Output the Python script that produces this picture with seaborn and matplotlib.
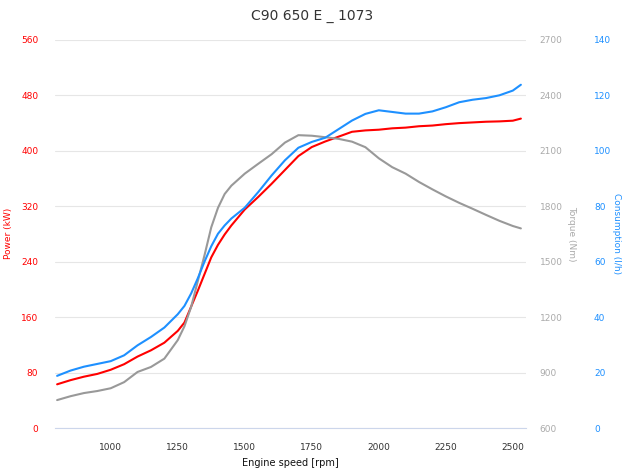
import matplotlib
matplotlib.use("Agg")
import matplotlib.pyplot as plt
import seaborn as sns
import pandas as pd

# engine curve values
rpm = [800, 850, 900, 950, 1000, 1050, 1100, 1150, 1200, 1250, 1275, 1300, 1325, 1350,
       1375, 1400, 1425, 1450, 1500, 1550, 1600, 1650, 1700, 1750, 1800, 1850, 1900,
       1950, 2000, 2050, 2100, 2150, 2200, 2250, 2300, 2350, 2400, 2450, 2500, 2530]
power = [63, 69, 74, 78, 84, 92, 103, 112, 123, 140, 152, 175, 198, 222,
         246, 264, 279, 292, 315, 333, 352, 372, 392, 405, 413, 420, 427,
         429, 430, 432, 433, 435, 436, 438, 439.5, 440.5, 441.5, 442, 443, 446]
torque = [751, 772, 789, 800, 815, 848, 903, 930, 975, 1075, 1150, 1255, 1395, 1535,
          1685, 1790, 1865, 1910, 1975, 2028, 2080, 2143, 2183, 2180, 2172, 2163, 2148,
          2118, 2058, 2010, 1975, 1930, 1890, 1852, 1817, 1785, 1752, 1720, 1692, 1679]
consumption = [18.8, 20.7, 22.1, 23.1, 24.1, 26.2, 29.8, 32.8, 36.2, 41, 44, 48.5, 54, 60,
               65.5, 70, 73, 75.5, 79.4, 85, 91, 96.5, 101, 103.1, 104.6, 107.7, 110.8,
               113.2, 114.5, 113.9, 113.3, 113.3, 114.1, 115.6, 117.4, 118.3, 118.9, 119.9, 121.6, 123.7]

df = pd.DataFrame({"rpm": rpm, "power": power, "torque": torque, "consumption": consumption})

RED = "#ff0000"
GRAY = "#999999"
BLUE = "#1e90ff"

sns.set_style("white")
fig = plt.figure(figsize=(6.24, 4.75), dpi=100)
ax = fig.add_axes([0.0881, 0.0989, 0.7548, 0.8179])
ax2 = ax.twinx()
ax3 = ax.twinx()

sns.lineplot(data=df, x="rpm", y="power", ax=ax, color=RED, linewidth=1.5)
sns.lineplot(data=df, x="rpm", y="torque", ax=ax2, color=GRAY, linewidth=1.5)
sns.lineplot(data=df, x="rpm", y="consumption", ax=ax3, color=BLUE, linewidth=1.5)

ax.set_xlim(792, 2549)
ax.set_ylim(0, 560)
ax2.set_ylim(600, 2700)
ax3.set_ylim(0, 140)
ax.set_yticks(range(0, 561, 80))
ax2.set_yticks(range(600, 2701, 300))
ax3.set_yticks(range(0, 141, 20))
ax.set_xticks(range(1000, 2501, 250))

ax.grid(axis="y", color="#e6e6e6", linewidth=0.8)
ax.set_axisbelow(True)
for a in (ax, ax2, ax3):
    for s in a.spines.values():
        s.set_visible(False)
ax.spines["bottom"].set_visible(True)
ax.spines["bottom"].set_color("#ccd6eb")

ax.tick_params(axis="x", colors="#ccd6eb", length=5, width=0.8, labelsize=6.5, labelcolor="#333333", pad=6)
ax.tick_params(axis="y", length=0, labelsize=6.5, labelcolor=RED, pad=12)
ax2.tick_params(axis="y", length=0, labelsize=6.5, labelcolor="#aaaaaa", pad=10)
ax3.tick_params(axis="y", length=0, labelsize=6.5, labelcolor=BLUE, pad=49)
for lab in ax2.get_yticklabels() + ax3.get_yticklabels():
    lab.set_horizontalalignment("left")

ax.set_xlabel("Engine speed [rpm]", fontsize=7, color="#111111", labelpad=4)
ax.set_ylabel("Power (kW)", fontsize=6.5, color=RED)
ax.yaxis.set_label_coords(-0.0885, 0.5)
ax2.set_ylabel("Torque (Nm)", fontsize=6.5, color="#aaaaaa", rotation=270, va="center")
ax2.yaxis.set_label_coords(1.097, 0.5)
ax3.set_ylabel("Consumption (l/h)", fontsize=6.5, color=BLUE, rotation=270, va="center")
ax3.yaxis.set_label_coords(1.193, 0.5)

fig.text(0.5, 0.966, "C90 650 E _ 1073", ha="center", va="center", fontsize=10, color="#333333")

fig.savefig("out.png", dpi=100)
